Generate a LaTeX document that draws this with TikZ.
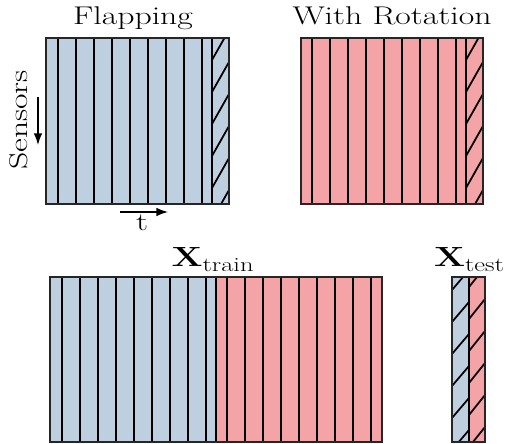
\documentclass[tikz,border=0pt]{standalone}
\usepackage{amsmath}
\usepackage{graphicx}
\usepackage{tikz}
\usetikzlibrary{arrows.meta}

\definecolor{flapblue}{RGB}{190,208,224}
\definecolor{rotred}{RGB}{244,164,166}
\newcommand{\sqz}[1]{\scalebox{1}[0.76]{#1}}

\begin{document}
\begin{tikzpicture}[x=0.2mm,y=-0.2mm,font=\fontsize{19.2}{23}\selectfont,
  stripe/.style={line width=1pt},
  frame/.style={draw=black!85,line width=0.6pt},
  lab/.style={inner sep=0pt,anchor=base},
  arr/.style={-{Latex},line width=0.8pt}]
\useasboundingbox (0,0) rectangle (507,444);
% blocks
\fill[flapblue] (46,38) rectangle (229,204);
\fill[rotred] (301,38) rectangle (483,204);
\fill[flapblue] (50,277) rectangle (216,442);
\fill[rotred] (216,277) rectangle (382,442);
\fill[flapblue] (452,277) rectangle (469,442);
\fill[rotred] (469,277) rectangle (485,442);
% time steps
\foreach \x in {58,76,...,202,212} \draw[stripe] (\x,38) -- (\x,204);
\foreach \x in {312,330,...,456,466} \draw[stripe] (\x,38) -- (\x,204);
\foreach \x in {62,80,...,206,216} \draw[stripe] (\x,277) -- (\x,442);
\foreach \x in {227,245,...,371} \draw[stripe] (\x,277) -- (\x,442);
\draw[stripe] (469,277) -- (469,442);
% held-out steps
\foreach \xa/\xb/\ya/\yb/\ph/\rise in {212/229/38/204/22/30,466/483/38/204/22/30,
    452/469/277/442/13/20,469/485/277/442/10/20}{
  \begin{scope}
    \clip (\xa,\ya) rectangle (\xb,\yb);
    \foreach \k in {0,...,5}
      \draw[stripe] (\xa,\ya+\ph+32*\k) -- ++(\xb-\xa,-\rise);
  \end{scope}}
\draw[frame] (46,38) rectangle (229,204);
\draw[frame] (301,38) rectangle (483,204);
\draw[frame] (50,277) rectangle (382,442);
\draw[frame] (452,277) rectangle (485,442);
% axes
\coordinate (s1) at (38,97);
\coordinate (s2) at (38,145);
\coordinate (t1) at (120,212);
\coordinate (t2) at (168,212);
\draw[arr] (s1) -- (s2);
\draw[arr] (t1) -- (t2);
\node[rotate=90] (sens) at (19,120) {\sqz{Sensors}};
\node[lab] (tlab) at (142,231) {\sqz{t}};
% titles
\node[lab] (flap) at (133,25) {\sqz{Flapping}};
\node[lab] (rot) at (392,25) {\sqz{With Rotation}};
\node[lab,font=\fontsize{21.5}{26}\selectfont] (xtrain) at (213,267) {\sqz{$\mathbf{X}_{\text{train}}$}};
\node[lab,font=\fontsize{21.5}{26}\selectfont] (xtest) at (469.5,267) {\sqz{$\mathbf{X}_{\text{test}}$}};
\end{tikzpicture}
\end{document}
